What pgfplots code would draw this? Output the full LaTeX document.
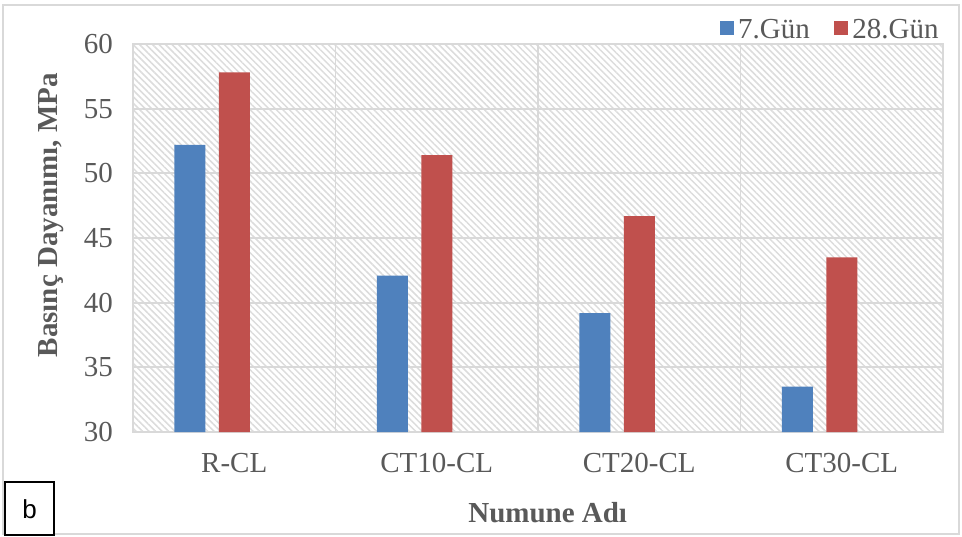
\documentclass[border=0pt]{standalone}
\usepackage{pgfplots}
\pgfplotsset{compat=1.18}
\usepackage{fontspec}
\setmainfont{Liberation Serif}
\newfontfamily\arialfont{Liberation Sans}
\usetikzlibrary{patterns.meta}
\definecolor{barblue}{HTML}{4F81BD}
\definecolor{barred}{HTML}{C0504D}
\definecolor{txtgray}{HTML}{595959}
\definecolor{gridgray}{HTML}{D9D9D9}
\definecolor{hatchgray}{HTML}{DCDCDC}
\begin{document}
\begin{tikzpicture}
\useasboundingbox (0pt,0pt) rectangle (481pt,268pt);
\draw[gridgray, line width=0.9pt] (1.5pt,1pt) rectangle (479.5pt,265.5pt);
\begin{axis}[
  at={(66.5pt,52pt)}, anchor=south west,
  scale only axis, width=405pt, height=194pt,
  ybar, bar width=15.5pt,
  xmin=-0.5, xmax=3.5, ymin=30, ymax=60,
  xtick={0,1,2,3},
  xticklabels={R-CL,CT10-CL,CT20-CL,CT30-CL},
  minor xtick={0.5,1.5,2.5},
  ytick={30,35,40,45,50,55,60},
  major tick length=0pt, minor tick length=0pt,
  ymajorgrids, xminorgrids, xmajorgrids=false,
  grid style={draw=gridgray, line width=0.9pt},
  minor grid style={draw=gridgray, line width=0.9pt},
  axis line style={draw=gridgray, line width=0.9pt},
  axis background/.style={pattern={Lines[angle=-45,distance=2.3pt,line width=0.75pt]}, pattern color=hatchgray},
  /pgf/number format/assume math mode=true,
  ticklabel style={font=\fontsize{14.5}{17}\selectfont, text=txtgray},
  yticklabel style={anchor=east, xshift=-6.5pt},
  xticklabel style={anchor=north, yshift=-7pt},
  xlabel={Numune Adı},
  ylabel={Basınç Dayanımı, MPa},
  label style={font=\bfseries\fontsize{14.5}{17}\selectfont, text=txtgray},
  xlabel style={at={(axis description cs:0.512,-0.2345)}, anchor=base},
  ylabel style={at={(axis description cs:-0.0938,0.559)}, anchor=base},
  legend style={at={(axis description cs:1,1)}, anchor=south east, yshift=-1pt,
    draw=none, fill=none, inner sep=0pt,
    font=\fontsize{14.5}{17}\selectfont, text=txtgray,
    legend columns=-1,
    /tikz/every even column/.append style={column sep=10pt},
    nodes={inner sep=2pt}},
  clip=true,
]
\addplot[fill=barblue, draw=none, bar shift=-22.25pt,
  legend image code/.code={\fill[barblue] (0pt,-2.5pt) rectangle (7.3pt,4.5pt);}]
  coordinates {(0,52.2) (1,42.1) (2,39.2) (3,33.5)};
\addlegendentry{7.Gün}
\addplot[fill=barred, draw=none, bar shift=0pt,
  legend image code/.code={\fill[barred] (0pt,-2.5pt) rectangle (7.3pt,4.5pt);}]
  coordinates {(0,57.8) (1,51.4) (2,46.7) (3,43.5)};
\addlegendentry{28.Gün}
\end{axis}
\fill[white] (2.5pt,0.5pt) rectangle (27pt,27pt);
\draw[black, line width=0.6pt] (2.5pt,0.5pt) rectangle (27pt,27pt);
\node[font=\arialfont\fontsize{13}{15}\selectfont] at (14.75pt,13.5pt) {b};
\end{tikzpicture}
\end{document}
